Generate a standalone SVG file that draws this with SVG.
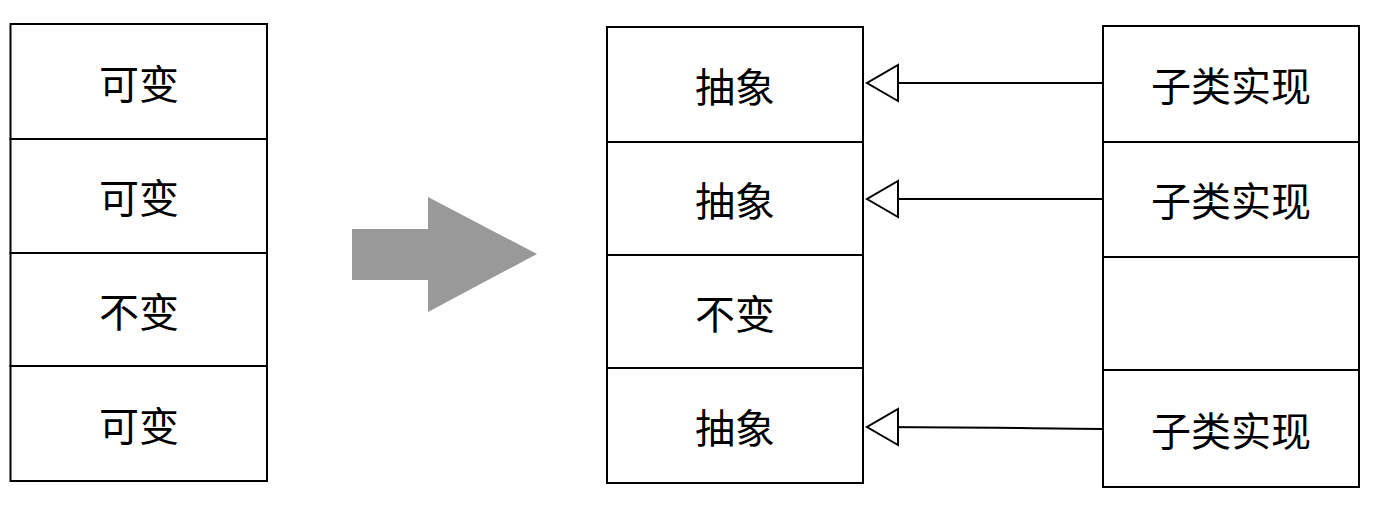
<svg xmlns="http://www.w3.org/2000/svg" width="1395" height="518" viewBox="0 0 1395 518">
<style>
.box{fill:#fff;stroke:#000;stroke-width:2}
.t{font-family:"Noto Sans CJK SC","Noto Sans",sans-serif;font-size:40px;fill:#000;text-anchor:middle;dominant-baseline:central}
.c{fill:none;stroke:#000;stroke-width:2}
</style>
<defs>
<marker id="tri" markerUnits="userSpaceOnUse" markerWidth="36" markerHeight="42" refX="33" refY="20" orient="auto">
<path d="M2,2 L33,20 L2,38 Z" fill="#fff" stroke="#000" stroke-width="2"/>
</marker>
</defs>
<rect width="1395" height="518" fill="#fff"/>
<g id="left-column">
<g id="l1"><rect class="box" x="10.5" y="24" width="256.5" height="115"/><text class="t" x="139" y="82">可变</text></g>
<g id="l2"><rect class="box" x="10.5" y="139" width="256.5" height="114"/><text class="t" x="139" y="196">可变</text></g>
<g id="l3"><rect class="box" x="10.5" y="253" width="256.5" height="113"/><text class="t" x="139" y="310">不变</text></g>
<g id="l4"><rect class="box" x="10.5" y="366" width="256.5" height="115"/><text class="t" x="139" y="424">可变</text></g>
</g>
<g id="big-arrow"><polygon points="352,229 428,229 428,197 537,254 428,312 428,280 352,280" fill="#999"/></g>
<g id="middle-column">
<g id="m1"><rect class="box" x="607" y="27" width="256" height="115"/><text class="t" x="735" y="85">抽象</text></g>
<g id="m2"><rect class="box" x="607" y="142" width="256" height="113"/><text class="t" x="735" y="199">抽象</text></g>
<g id="m3"><rect class="box" x="607" y="255" width="256" height="113"/><text class="t" x="735" y="312">不变</text></g>
<g id="m4"><rect class="box" x="607" y="368" width="256" height="115"/><text class="t" x="735" y="426">抽象</text></g>
</g>
<g id="right-column">
<g id="r1"><rect class="box" x="1103" y="26" width="256" height="116"/><text class="t" x="1231" y="84">子类实现</text></g>
<g id="r2"><rect class="box" x="1103" y="142" width="256" height="115"/><text class="t" x="1231" y="199">子类实现</text></g>
<g id="r3"><rect class="box" x="1103" y="257" width="256" height="113"/></g>
<g id="r4"><rect class="box" x="1103" y="370" width="256" height="117"/><text class="t" x="1231" y="429">子类实现</text></g>
</g>
<g id="connectors">
<path class="c" d="M1103,83 L867,83" marker-end="url(#tri)"/>
<path class="c" d="M1103,199 L867,199" marker-end="url(#tri)"/>
<path class="c" d="M1103,429 C1000,428 960,427 867,427" marker-end="url(#tri)"/>
</g>
</svg>
